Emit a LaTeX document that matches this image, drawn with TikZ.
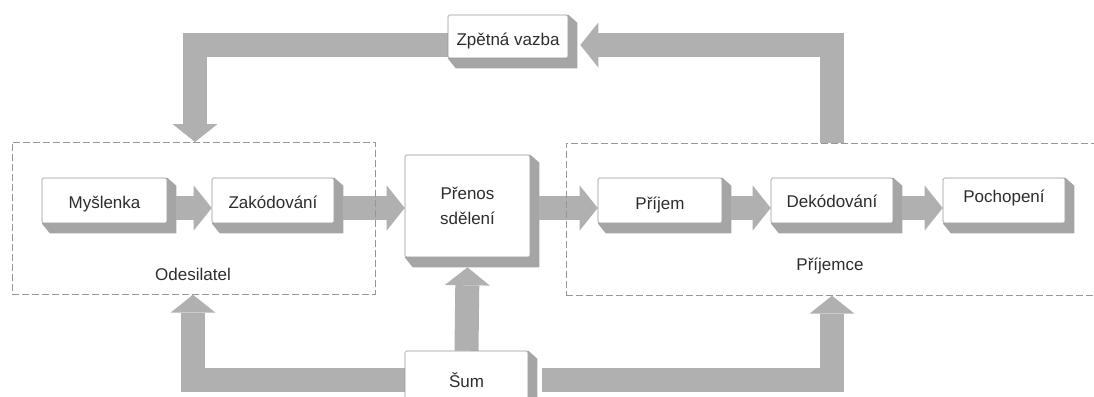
\documentclass[tikz,border=0pt]{standalone}
\usepackage{fontspec}
\setmainfont{Liberation Sans}
\usetikzlibrary{arrows.meta,calc,backgrounds}
\definecolor{band}{RGB}{176,176,176}
\definecolor{ext}{RGB}{165,165,165}
\definecolor{txt}{RGB}{45,45,45}
\definecolor{frame}{RGB}{150,150,150}
\newcommand\extrude[1]{\fill[ext] (#1.north east) -- ($(#1.north east)+(9,8)$) -- ($(#1.south east)+(9,10)$) -- ($(#1.south west)+(8,10)$) -- (#1.south west) -- cycle;}
\newcommand\shifttext[2]{\raisebox{#1}[12pt][4pt]{#2}}
\begin{document}
\begin{tikzpicture}[x=1pt,y=-1pt,
  font=\fontsize{17}{20}\selectfont,
  face/.style={draw=frame, fill=white, line width=0.6pt, rounded corners=1.5pt,
    inner sep=0pt, align=center, text=txt},
  groupbox/.style={draw=frame, dash pattern=on 7pt off 3pt, line width=0.7pt,
    inner sep=0pt, anchor=north west},
  grouplabel/.style={text=txt, inner sep=1pt},
  blockarrow/.style={draw=band, line width=24pt, line cap=butt, line join=miter,
    -{Triangle[length=18pt,width=45pt,line width=0pt 0 0]}}]
\useasboundingbox (0,0) rectangle (1094,396);
\coordinate (row) at (0,208);
% group frames
\node[groupbox, minimum width=363pt, minimum height=152pt] (send) at (12,142) {};
\node[groupbox, minimum width=560pt, minimum height=152pt] (recv) at (566,143) {};
\node[grouplabel] (sendl) at (193,274) {Odesilatel};
\node[grouplabel] (recvl) at (830,266) {Příjemce};
% boxes
\node[face, minimum width=125pt, minimum height=45pt] (mys) at (104.5,200.5) {\shifttext{-4pt}{Myšlenka}};
\node[face, minimum width=122pt, minimum height=45pt] (zak) at (273,200.5) {\shifttext{-4pt}{Zakódování}};
\node[face, minimum width=125pt, minimum height=102pt, font=\fontsize{17}{25}\selectfont] (pren) at (467.5,206) {Přenos\\sdělení};
\node[face, minimum width=124pt, minimum height=45pt] (prij) at (660,200.5) {\shifttext{-5pt}{Příjem}};
\node[face, minimum width=122pt, minimum height=45pt] (dek) at (832,200.5) {\shifttext{-3pt}{Dekódování}};
\node[face, minimum width=122pt, minimum height=45pt] (poch) at (1004,200.5) {\shifttext{2pt}{Pochopení}};
\node[face, minimum width=120pt, minimum height=43pt] (fb) at (508,36.5) {\shifttext{-5pt}{Zpětná vazba}};
\node[face, minimum width=123pt, minimum height=58pt] (sum) at (466.5,380) {Šum};
\begin{scope}[on background layer]
  \extrude{mys}\extrude{zak}\extrude{pren}\extrude{prij}\extrude{dek}\extrude{poch}\extrude{fb}\extrude{sum}
  \draw[blockarrow] ([xshift=9pt]mys.east |- row) -- (zak.west |- row);
  \draw[blockarrow] ([xshift=9pt]zak.east |- row) -- (pren.west |- row);
  \draw[blockarrow] ([xshift=9pt]pren.east |- row) -- (prij.west |- row);
  \draw[blockarrow] ([xshift=9pt]prij.east |- row) -- (dek.west |- row);
  \draw[blockarrow] ([xshift=9pt]dek.east |- row) -- (poch.west |- row);
  \draw[blockarrow] (sum.north) -- ([yshift=-10pt]pren.south);
  \draw[blockarrow] (sum.west) -| ([xshift=181pt]send.south west);
  \draw[blockarrow] ([xshift=14pt]sum.east) -| ([xshift=266pt]recv.south west);
  \draw[blockarrow] ([yshift=-8.5pt]fb.west) -| ([xshift=183pt]send.north west);
  \draw[blockarrow] ([xshift=266pt]recv.north west) |- ([xshift=12pt,yshift=-8.5pt]fb.east);
\end{scope}
\end{tikzpicture}
\end{document}
